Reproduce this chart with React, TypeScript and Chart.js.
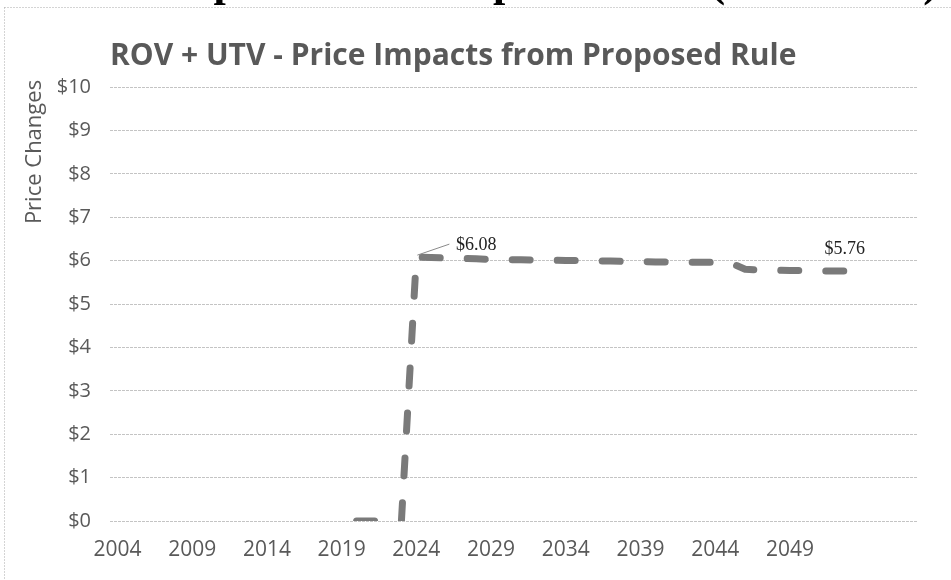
import React, { useEffect, useRef } from 'react';
import { Chart, registerables } from 'chart.js';

Chart.register(...registerables);

// ---- data ----
const years: string[] = [
  '2004', '2005', '2006', '2007', '2008', '2009', '2010', '2011', '2012', '2013',
  '2014', '2015', '2016', '2017', '2018', '2019', '2020', '2021', '2022', '2023',
  '2024', '2025', '2026', '2027', '2028', '2029', '2030', '2031', '2032', '2033',
  '2034', '2035', '2036', '2037', '2038', '2039', '2040', '2041', '2042', '2043',
  '2044', '2045', '2046', '2047', '2048', '2049', '2050', '2051', '2052', '2053',
  '', '', '', '',
];

const priceChanges: (number | null)[] = [
  null, null, null, null, null, null, null, null, null, null,
  null, null, null, null, null, null, 0, 0, 0, 0,
  6.08, 6.07, 6.06, 6.05, 6.04, 6.03, 6.02, 6.02, 6.01, 6.01,
  6.0, 6.0, 5.99, 5.99, 5.98, 5.98, 5.97, 5.97, 5.96, 5.96,
  5.96, 5.95, 5.8, 5.78, 5.78, 5.77, 5.77, 5.76, 5.76, 5.76,
];

const labelledYears: string[] = ['2024', '2053'];
const yMin = 0;
const yMax = 10;
const yStep = 1;
const xLabelEvery = 5;

const chartTitle = 'ROV + UTV - Price Impacts from Proposed Rule';
const yAxisTitle = 'Price Changes';
const pageHeading = 'Price Impacts from Proposed Rule (Continued)';

const GREY_TEXT = '#595959';
const SANS = '"Open Sans", "DejaVu Sans", sans-serif';

export default function App() {
  const ref = useRef<HTMLCanvasElement>(null);

  useEffect(() => {
    const canvas = ref.current;
    if (!canvas) return;

    const decor = {
      id: 'decor',
      beforeDraw(chart: any) {
        const ctx = chart.ctx as CanvasRenderingContext2D;
        ctx.save();
        ctx.fillStyle = '#ffffff';
        ctx.fillRect(0, 0, chart.width, chart.height);

        // clipped page heading at the very top
        ctx.fillStyle = '#000000';
        ctx.font = 'bold 44px "Liberation Serif", serif';
        ctx.textAlign = 'left';
        ctx.textBaseline = 'alphabetic';
        ctx.fillText(pageHeading, 51, -4);

        // frame of the chart object (left + top)
        ctx.strokeStyle = '#a8a8a8';
        ctx.lineWidth = 1;
        ctx.setLineDash([1, 2]);
        ctx.beginPath();
        ctx.moveTo(4.5, 7.5);
        ctx.lineTo(4.5, chart.height);
        ctx.moveTo(4.5, 7.5);
        ctx.lineTo(chart.width, 7.5);
        ctx.stroke();
        ctx.setLineDash([]);

        // chart title
        ctx.fillStyle = GREY_TEXT;
        ctx.font = 'bold 30px ' + SANS;
        ctx.textAlign = 'left';
        ctx.textBaseline = 'alphabetic';
        ctx.fillText(chartTitle, chart.chartArea.left, 65);

        // y-axis title
        ctx.translate(35, 152);
        ctx.rotate(-Math.PI / 2);
        ctx.font = '22px ' + SANS;
        ctx.textAlign = 'center';
        ctx.textBaseline = 'middle';
        ctx.fillText(yAxisTitle, 0, 0);
        ctx.restore();
      },
      afterDatasetsDraw(chart: any) {
        const ctx = chart.ctx as CanvasRenderingContext2D;
        const meta = chart.getDatasetMeta(0);
        ctx.save();
        ctx.font = '18px "Liberation Serif", serif';
        ctx.fillStyle = '#222222';
        ctx.textAlign = 'center';
        ctx.textBaseline = 'middle';
        labelledYears.forEach((yr, k) => {
          const i = years.indexOf(yr);
          const v = priceChanges[i];
          const pt = meta.data[i];
          if (v == null || !pt) return;
          const text = '$' + v.toFixed(2);
          if (k === 0) {
            const lx = pt.x + 60;
            const ly = pt.y - 12;
            ctx.strokeStyle = '#8a8a8a';
            ctx.lineWidth = 1;
            ctx.beginPath();
            ctx.moveTo(pt.x + 1, pt.y - 2);
            ctx.lineTo(lx - 27, ly - 1);
            ctx.stroke();
            ctx.fillText(text, lx, ly);
          } else {
            ctx.fillText(text, pt.x - 5, pt.y - 22);
          }
        });
        ctx.restore();
      },
    };

    const chart = new Chart(canvas, {
      type: 'line',
      data: {
        labels: years,
        datasets: [
          {
            data: priceChanges,
            borderColor: '#7a7a7a',
            borderWidth: 7,
            borderDash: [18, 27],
            borderCapStyle: 'round',
            borderJoinStyle: 'round',
            pointRadius: 0,
            pointHoverRadius: 0,
            tension: 0,
            fill: false,
            spanGaps: false,
          },
        ],
      },
      options: {
        responsive: false,
        animation: false,
        devicePixelRatio: 1,
        layout: { padding: { top: 87, right: 34, bottom: 0, left: 0 } },
        plugins: {
          legend: { display: false },
          tooltip: { enabled: false },
          title: { display: false },
        },
        scales: {
          x: {
            type: 'category',
            offset: true,
            grid: { display: false, drawTicks: false },
            border: { display: false },
            ticks: {
              autoSkip: false,
              maxRotation: 0,
              minRotation: 0,
              padding: 16,
              color: GREY_TEXT,
              font: { family: SANS, size: 21 },
              callback: (_v: any, i: number) => (i % xLabelEvery === 0 ? years[i] : ''),
            },
            afterFit: (s: any) => {
              s.height = 59;
            },
          },
          y: {
            min: yMin,
            max: yMax,
            grid: { color: '#c4c4c4', lineWidth: 1, drawTicks: false },
            border: { display: false, dash: [3, 1] },
            ticks: {
              stepSize: yStep,
              padding: 19,
              color: GREY_TEXT,
              font: { family: SANS, size: 20 },
              callback: (v: any) => '$' + v,
            },
            afterFit: (s: any) => {
              s.width = 110;
            },
          },
        },
      },
      plugins: [decor],
    } as any);

    return () => chart.destroy();
  }, []);

  return (
    <div style={{ position: 'fixed', left: 0, top: 0, width: 951, height: 580, background: '#fff' }}>
      <canvas ref={ref} width={951} height={580} style={{ display: 'block', width: 951, height: 580 }} />
    </div>
  );
}
